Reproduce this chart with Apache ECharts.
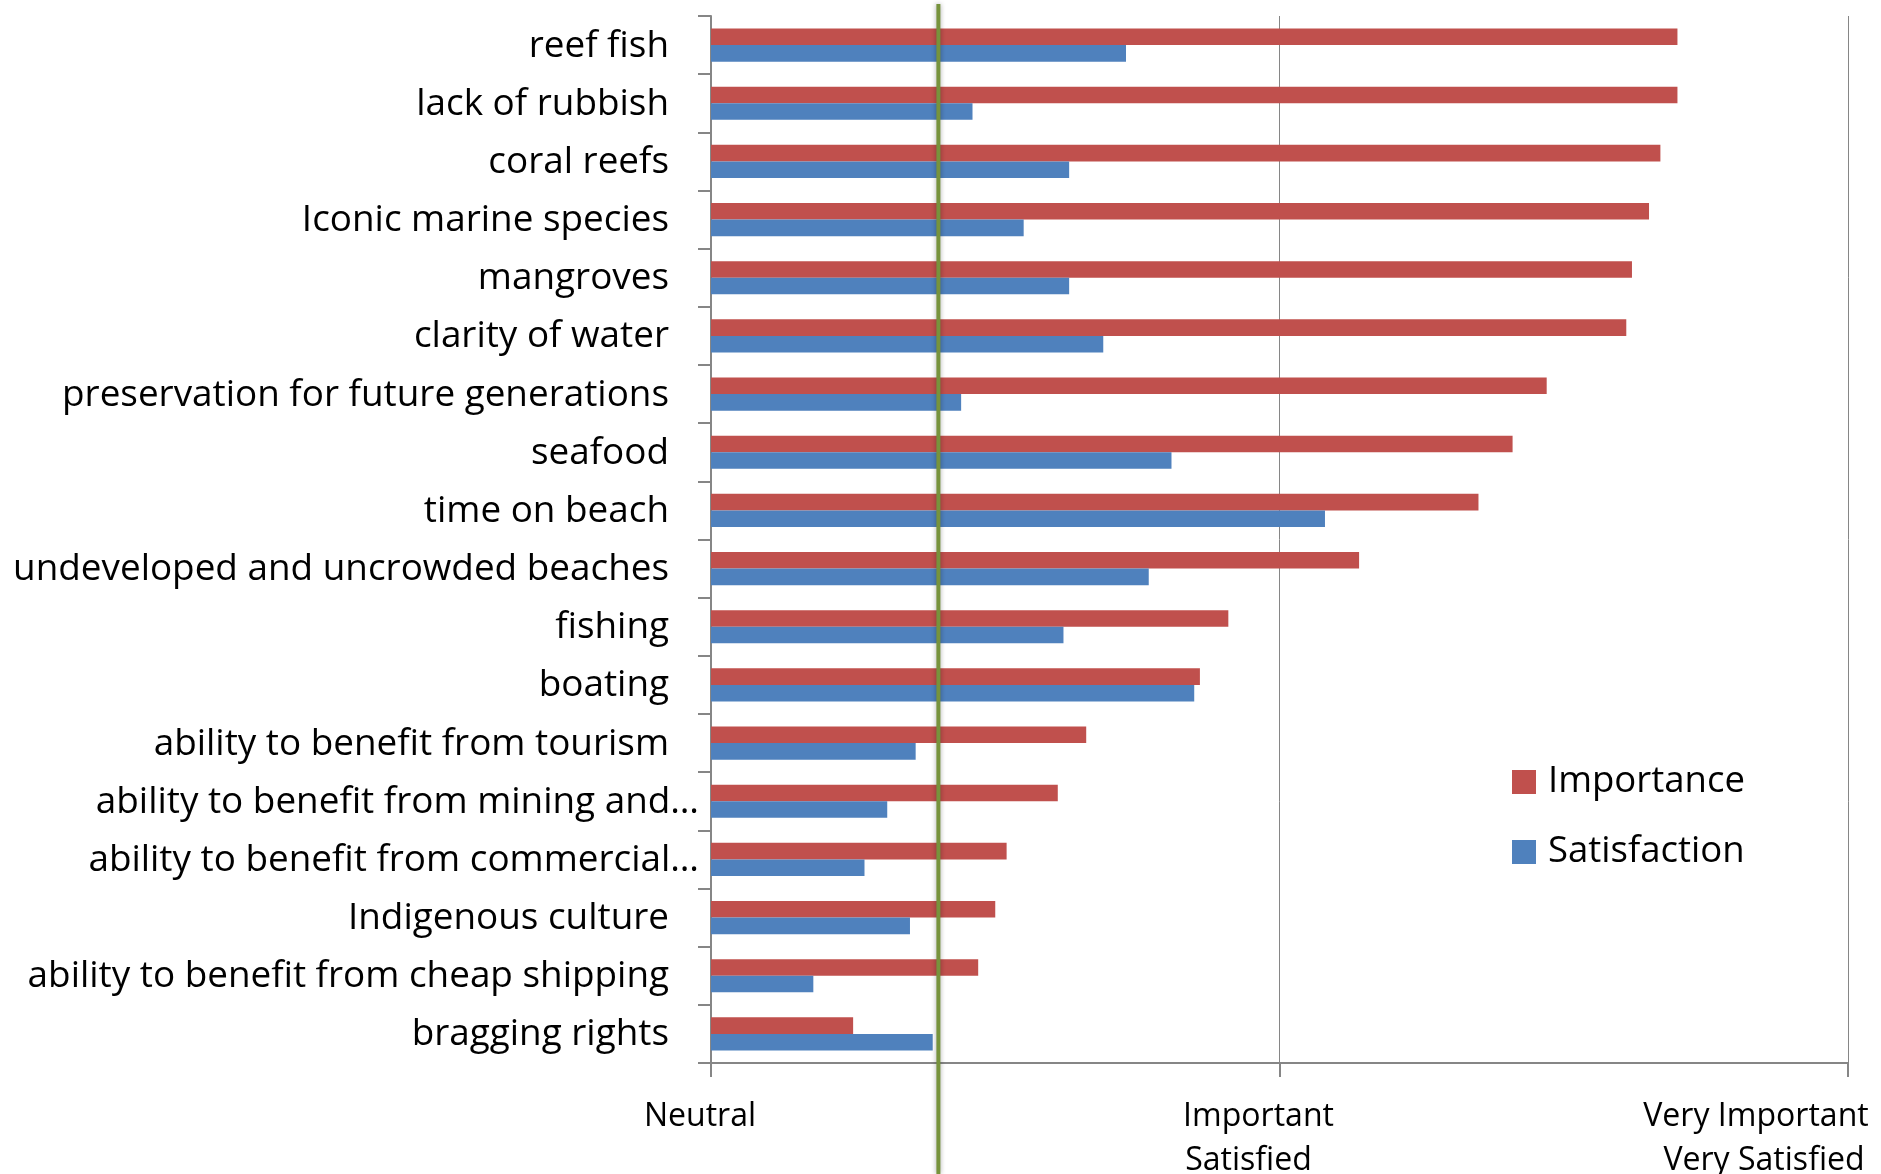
<!DOCTYPE html>
<html>
<head>
<meta charset="utf-8">
<script src="https://cdn.jsdelivr.net/npm/echarts@6/dist/echarts.min.js"></script>
<style>
html,body{margin:0;padding:0;background:#fff;}
#chart{width:1881px;height:1174px;}
</style>
</head>
<body>
<div id="chart"></div>
<script>
const categories = [
  'reef fish', 'lack of rubbish', 'coral reefs', 'Iconic marine species', 'mangroves',
  'clarity of water', 'preservation for future generations', 'seafood', 'time on beach',
  'undeveloped and uncrowded beaches', 'fishing', 'boating', 'ability to benefit from tourism',
  'ability to benefit from mining and…', 'ability to benefit from commercial…',
  'Indigenous culture', 'ability to benefit from cheap shipping', 'bragging rights'
];
const importance = [4.70, 4.70, 4.67, 4.65, 4.62, 4.61, 4.47, 4.41, 4.35, 4.14, 3.91, 3.86, 3.66, 3.61, 3.52, 3.50, 3.47, 3.25];
const satisfaction = [3.73, 3.46, 3.63, 3.55, 3.63, 3.69, 3.44, 3.81, 4.08, 3.77, 3.62, 3.85, 3.36, 3.31, 3.27, 3.35, 3.18, 3.39];
const tickLabels = [['Neutral'], ['Important', 'Satisfied'], ['Very Important', 'Very Satisfied']];
const seriesNames = ['Importance', 'Satisfaction'];
const referenceValue = 3.40;

const FONT = 'Open Sans';
function fit(text, target) {
  const c = document.createElement('canvas').getContext('2d');
  c.font = '100px "' + FONT + '"';
  return 100 * target / c.measureText(text).width;
}
const catSize = fit('undeveloped and uncrowded beaches', 656);
const legSize = fit('Importance', 197);
const xSize = fit('Important', 151);

// per-label horizontal nudges (right padding) to mimic the original placement
const xPads = [[22], [42, 62], [184, 168]];
const xRich = {};
tickLabels.forEach((lines, i) => {
  lines.forEach((t, j) => {
    xRich['t' + i + '_' + j] = {
      fontFamily: FONT, fontSize: xSize, color: '#000', lineHeight: 44,
      align: 'center', padding: [0, xPads[i][j], 0, 0]
    };
  });
});

const chart = echarts.init(document.getElementById('chart'), null, {renderer: 'canvas'});
const gray = '#868686';
chart.setOption({
  animation: false,
  backgroundColor: '#fff',
  grid: {left: 711, right: 33, top: 16, bottom: 111, containLabel: false, outerBoundsMode: 'none'},
  legend: {
    orient: 'vertical',
    left: 1507, top: 757,
    itemWidth: 24, itemHeight: 24, itemGap: 30,
    icon: 'rect',
    data: seriesNames,
    textStyle: {fontFamily: FONT, fontSize: legSize, color: '#000', lineHeight: 40, padding: [0, 0, 0, 7]}
  },
  xAxis: {
    type: 'value', min: 3, max: 5, interval: 1,
    axisLine: {show: true, lineStyle: {color: gray, width: 2}},
    axisTick: {show: true, length: 14, lineStyle: {color: gray, width: 2}},
    splitLine: {show: true, lineStyle: {color: gray, width: 1}},
    axisLabel: {
      margin: 32,
      formatter: function (v) {
        const i = Math.round(v - 3);
        const lines = tickLabels[i] || [];
        return lines.map((t, j) => '{t' + i + '_' + j + '|' + t + '}').join('\n');
      },
      rich: xRich
    }
  },
  yAxis: {
    type: 'category', inverse: true, data: categories,
    axisLine: {show: true, lineStyle: {color: gray, width: 2}},
    axisTick: {show: true, length: 13, lineStyle: {color: gray, width: 2}},
    axisLabel: {
      margin: 12,
      interval: 0,
      formatter: function (v) {
        return v.endsWith('…') ? '{t|' + v + '}' : '{n|' + v + '}';
      },
      rich: {
        n: {fontFamily: FONT, fontSize: catSize, color: '#000', padding: [2, 30, 0, 0]},
        t: {fontFamily: FONT, fontSize: catSize, color: '#000', padding: [2, 0, 0, 0]}
      }
    }
  },
  series: [
    {
      name: seriesNames[0], type: 'bar', data: importance,
      itemStyle: {color: '#C0504D'},
      barGap: '0%', barCategoryGap: '43%'
    },
    {
      name: seriesNames[1], type: 'bar', data: satisfaction,
      itemStyle: {color: '#4F81BD'},
      barGap: '0%', barCategoryGap: '43%'
    }
  ]
});

const gx = chart.convertToPixel({xAxisIndex: 0}, referenceValue);
chart.setOption({
  graphic: [{
    type: 'line', z: 100,
    shape: {x1: gx, y1: 4, x2: gx, y2: 1174},
    style: {stroke: '#77933C', lineWidth: 4, shadowBlur: 5, shadowColor: 'rgba(0,0,0,0.35)'}
  }]
});
</script>
</body>
</html>
